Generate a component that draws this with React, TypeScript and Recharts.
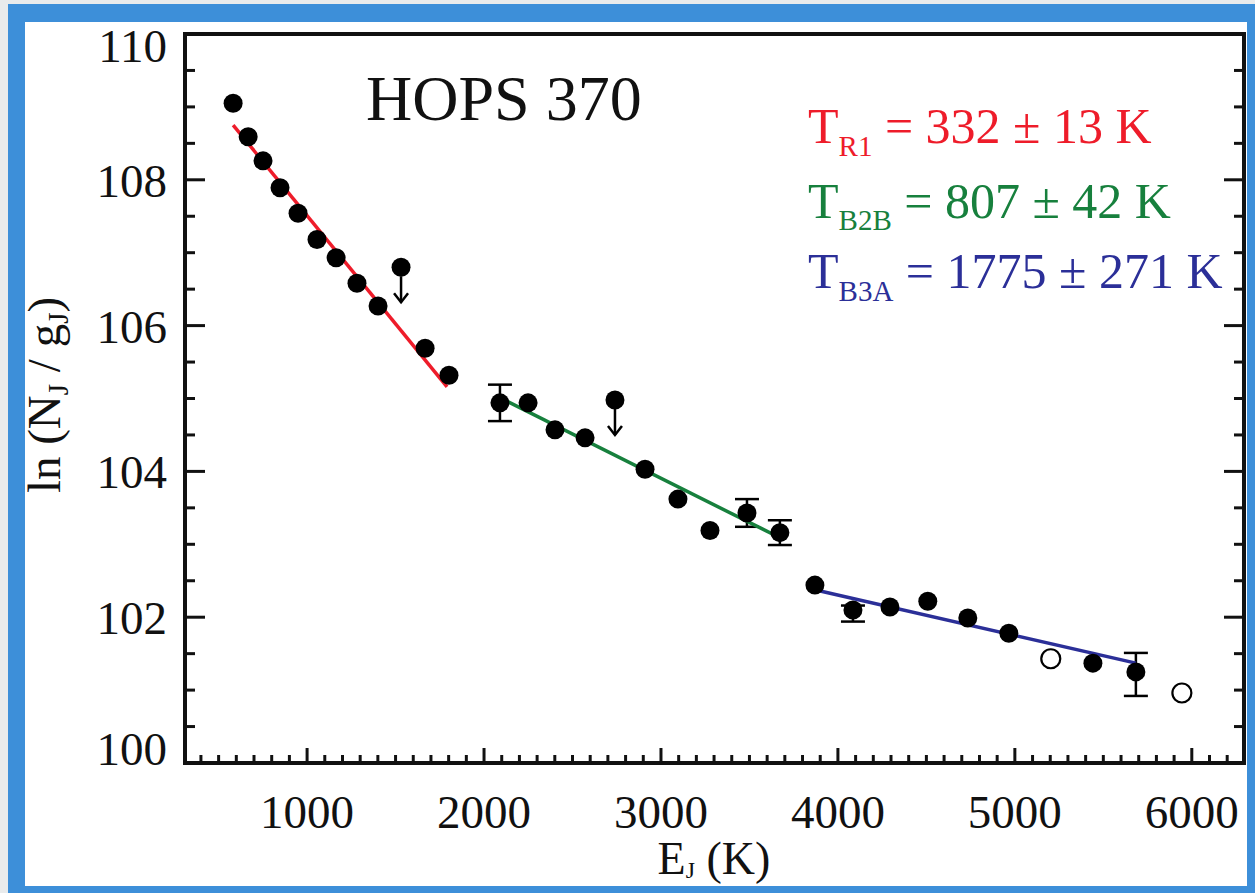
import { ScatterChart, Scatter, XAxis, YAxis, ErrorBar } from "recharts";

const FONT = '"Liberation Serif", "Times New Roman", Times, serif';

// axis setup
const X_DOMAIN: [number, number] = [310, 6295];
const Y_DOMAIN: [number, number] = [100, 110];
const X_MAJOR = [1000, 2000, 3000, 4000, 5000, 6000];
const Y_MAJOR = [100, 102, 104, 106, 108, 110];
// minor ticks every 100 K and every 0.5
const X_TICKS = Array.from({ length: 59 }, (_, i) => 400 + i * 100);
const Y_TICKS = Array.from({ length: 21 }, (_, i) => 100 + i * 0.5);

// filled points without error bars: [E_J, ln(N/g)]
const R1_POINTS = [
  [582, 109.05], [667, 108.59], [751, 108.26], [847, 107.89], [949, 107.54],
  [1056, 107.18], [1164, 106.93], [1282, 106.58], [1401, 106.27], [1667, 105.69],
  [1802, 105.32],
];
const B2B_POINTS = [
  [2249, 104.94], [2401, 104.57], [2571, 104.46], [2910, 104.03], [3096, 103.62],
  [3277, 103.19],
];
const B3A_POINTS = [
  [3870, 102.44], [4294, 102.14], [4508, 102.22], [4734, 101.99], [4966, 101.78],
  [5441, 101.37],
];
// filled points with error bars: [E_J, ln(N/g), [low, high]]
const ERR_POINTS: [number, number, [number, number]][] = [
  [2090, 104.94, [0.25, 0.25]],
  [3486, 103.43, [0.19, 0.19]],
  [3672, 103.16, [0.17, 0.17]],
  [4085, 102.1, [0.16, 0.06]],
  [5684, 101.25, [0.33, 0.26]],
];
// upper limits and open symbols
const UPPER_LIMITS = [[1531, 106.8], [2740, 104.98]];
const OPEN_POINTS = [[5203, 101.43], [5944, 100.96]];

// fitted lines (end points)
const FIT_R1 = [[582, 108.75], [1791, 105.16]];
const FIT_B2B = [[2090, 105.01], [3672, 103.09]];
const FIT_B3A = [[3881, 102.37], [5684, 101.37]];

const RED = "#ee1c2a";
const GREEN = "#17803d";
const BLUE = "#2b2f98";

const toXY = (arr: number[][]) => arr.map(([x, y]) => ({ x, y }));
const filled = toXY([...R1_POINTS, ...B2B_POINTS, ...B3A_POINTS]);
const withErr = ERR_POINTS.map(([x, y, err]) => ({ x, y, err }));

const AXIS = { stroke: "#111", strokeWidth: 4, strokeLinecap: "square" as const };

const isMajorX = (v: number) => X_MAJOR.includes(v);
const isMajorY = (v: number) => Y_MAJOR.some((m) => Math.abs(m - v) < 1e-6);

const BottomTick = (p: any) => {
  const v = p.payload.value;
  const major = isMajorX(v);
  return (
    <g>
      <line x1={p.x} x2={p.x} y1={p.y} y2={p.y - (major ? 15 : 8)} stroke="#111" strokeWidth={3} />
      {major && (
        <text x={p.x} y={p.y + 65} textAnchor="middle" fontSize={47} fontFamily={FONT} fill="#111">
          {v}
        </text>
      )}
    </g>
  );
};

const TopTick = (p: any) => {
  const major = isMajorX(p.payload.value);
  return <line x1={p.x} x2={p.x} y1={p.y} y2={p.y + (major ? 15 : 8)} stroke="#111" strokeWidth={3} />;
};

const LeftTick = (p: any) => {
  const v = p.payload.value;
  const major = isMajorY(v);
  const base = Math.min(Math.max(p.y + 17, 62), 765);
  return (
    <g>
      <line x1={p.x} x2={p.x + (major ? 20 : 10)} y1={p.y} y2={p.y} stroke="#111" strokeWidth={3} />
      {major && (
        <text x={p.x - 18} y={base} textAnchor="end" fontSize={47} fontFamily={FONT} fill="#111">
          {v}
        </text>
      )}
    </g>
  );
};

const RightTick = (p: any) => {
  const major = isMajorY(p.payload.value);
  return <line x1={p.x} x2={p.x - (major ? 20 : 10)} y1={p.y} y2={p.y} stroke="#111" strokeWidth={3} />;
};

const Dot = (p: any) => <circle cx={p.cx} cy={p.cy} r={9.5} fill="#000" />;
const OpenDot = (p: any) => <circle cx={p.cx} cy={p.cy} r={9.5} fill="#fff" stroke="#000" strokeWidth={2.2} />;
const LimitDot = (p: any) => (
  <g>
    <circle cx={p.cx} cy={p.cy} r={9.5} fill="#000" />
    <line x1={p.cx} x2={p.cx} y1={p.cy + 9} y2={p.cy + 35} stroke="#000" strokeWidth={2.5} />
    <polyline
      points={`${p.cx - 7},${p.cy + 26} ${p.cx},${p.cy + 35} ${p.cx + 7},${p.cy + 26}`}
      fill="none"
      stroke="#000"
      strokeWidth={2.5}
    />
  </g>
);
const NoDot = () => <g />;

export default function App() {
  return (
    <div style={{ position: "absolute", left: 0, top: 0, width: 1255, height: 893, background: "#e9ebec", overflow: "hidden" }}>
      <div style={{ position: "absolute", left: 8, top: 4, right: 0, bottom: 0, background: "#3d8fd9" }} />
      <div style={{ position: "absolute", left: 25, top: 22, width: 1222, height: 864, background: "#fff" }} />
      <div style={{ position: "absolute", left: 0, top: 0 }}>
        <ScatterChart width={1255} height={893} margin={{ top: 33, right: 10, bottom: 0, left: 0 }}>
          <XAxis
            xAxisId="b"
            orientation="bottom"
            type="number"
            dataKey="x"
            domain={X_DOMAIN}
            ticks={X_TICKS}
            interval={0}
            height={130}
            tickSize={0}
            tickMargin={0}
            tickLine={false}
            axisLine={AXIS}
            tick={(p: any) => <BottomTick {...p} />}
            allowDataOverflow
          />
          <XAxis
            xAxisId="t"
            orientation="top"
            type="number"
            domain={X_DOMAIN}
            ticks={X_TICKS}
            interval={0}
            height={1}
            tickSize={0}
            tickMargin={0}
            tickLine={false}
            axisLine={AXIS}
            tick={(p: any) => <TopTick {...p} />}
            allowDataOverflow
          />
          <YAxis
            yAxisId="l"
            orientation="left"
            type="number"
            dataKey="y"
            domain={Y_DOMAIN}
            ticks={Y_TICKS}
            interval={0}
            width={185}
            tickSize={0}
            tickMargin={0}
            tickLine={false}
            axisLine={AXIS}
            tick={(p: any) => <LeftTick {...p} />}
            allowDataOverflow
          />
          <YAxis
            yAxisId="r"
            orientation="right"
            type="number"
            domain={Y_DOMAIN}
            ticks={Y_TICKS}
            interval={0}
            width={1}
            tickSize={0}
            tickMargin={0}
            tickLine={false}
            axisLine={AXIS}
            tick={(p: any) => <RightTick {...p} />}
            allowDataOverflow
          />
          <Scatter xAxisId="b" yAxisId="l" data={toXY(FIT_R1)} line={{ stroke: RED, strokeWidth: 3.5 }} shape={NoDot} isAnimationActive={false} />
          <Scatter xAxisId="b" yAxisId="l" data={toXY(FIT_B2B)} line={{ stroke: GREEN, strokeWidth: 3.5 }} shape={NoDot} isAnimationActive={false} />
          <Scatter xAxisId="b" yAxisId="l" data={toXY(FIT_B3A)} line={{ stroke: BLUE, strokeWidth: 3.5 }} shape={NoDot} isAnimationActive={false} />
          <Scatter xAxisId="b" yAxisId="l" data={filled} shape={Dot} isAnimationActive={false} />
          <Scatter xAxisId="b" yAxisId="l" data={withErr} shape={Dot} isAnimationActive={false}>
            <ErrorBar dataKey="err" direction="y" width={12} stroke="#000" strokeWidth={2.5} />
          </Scatter>
          <Scatter xAxisId="b" yAxisId="l" data={toXY(UPPER_LIMITS)} shape={LimitDot} isAnimationActive={false} />
          <Scatter xAxisId="b" yAxisId="l" data={toXY(OPEN_POINTS)} shape={OpenDot} isAnimationActive={false} />
        </ScatterChart>
      </div>
      <svg width={1255} height={893} style={{ position: "absolute", left: 0, top: 0, pointerEvents: "none" }} fontFamily={FONT}>
        <text x={366} y={120} fontSize={64} fill="#111">HOPS 370</text>
        <text x={808} y={143} fontSize={50} fill={RED} style={{ whiteSpace: "pre" }}>
          T<tspan dy={13} fontSize={29}>R1</tspan>
          <tspan dy={-13}> = 332 ± 13 K</tspan>
        </text>
        <text x={808} y={218} fontSize={50} fill={GREEN} style={{ whiteSpace: "pre" }}>
          T<tspan dy={12} fontSize={29}>B2B</tspan>
          <tspan dy={-12}> = 807 ± 42 K</tspan>
        </text>
        <text x={808} y={288} fontSize={50} fill={BLUE} style={{ whiteSpace: "pre" }}>
          T<tspan dy={13} fontSize={29}>B3A</tspan>
          <tspan dy={-13}> = 1775 ± 271 K</tspan>
        </text>
        <text transform="translate(60,395) rotate(-90)" textAnchor="middle" fontSize={47} fill="#111" style={{ whiteSpace: "pre" }}>
          ln (N<tspan dy={8} fontSize={29}>J</tspan>
          <tspan dy={-8}> / g</tspan>
          <tspan dy={8} fontSize={29}>J</tspan>
          <tspan dy={-8}>)</tspan>
        </text>
        <text x={714} y={874} textAnchor="middle" fontSize={46} fill="#111" style={{ whiteSpace: "pre" }}>
          E<tspan dy={4} fontSize={24}>J</tspan>
          <tspan dy={-4}> (K)</tspan>
        </text>
      </svg>
    </div>
  );
}
